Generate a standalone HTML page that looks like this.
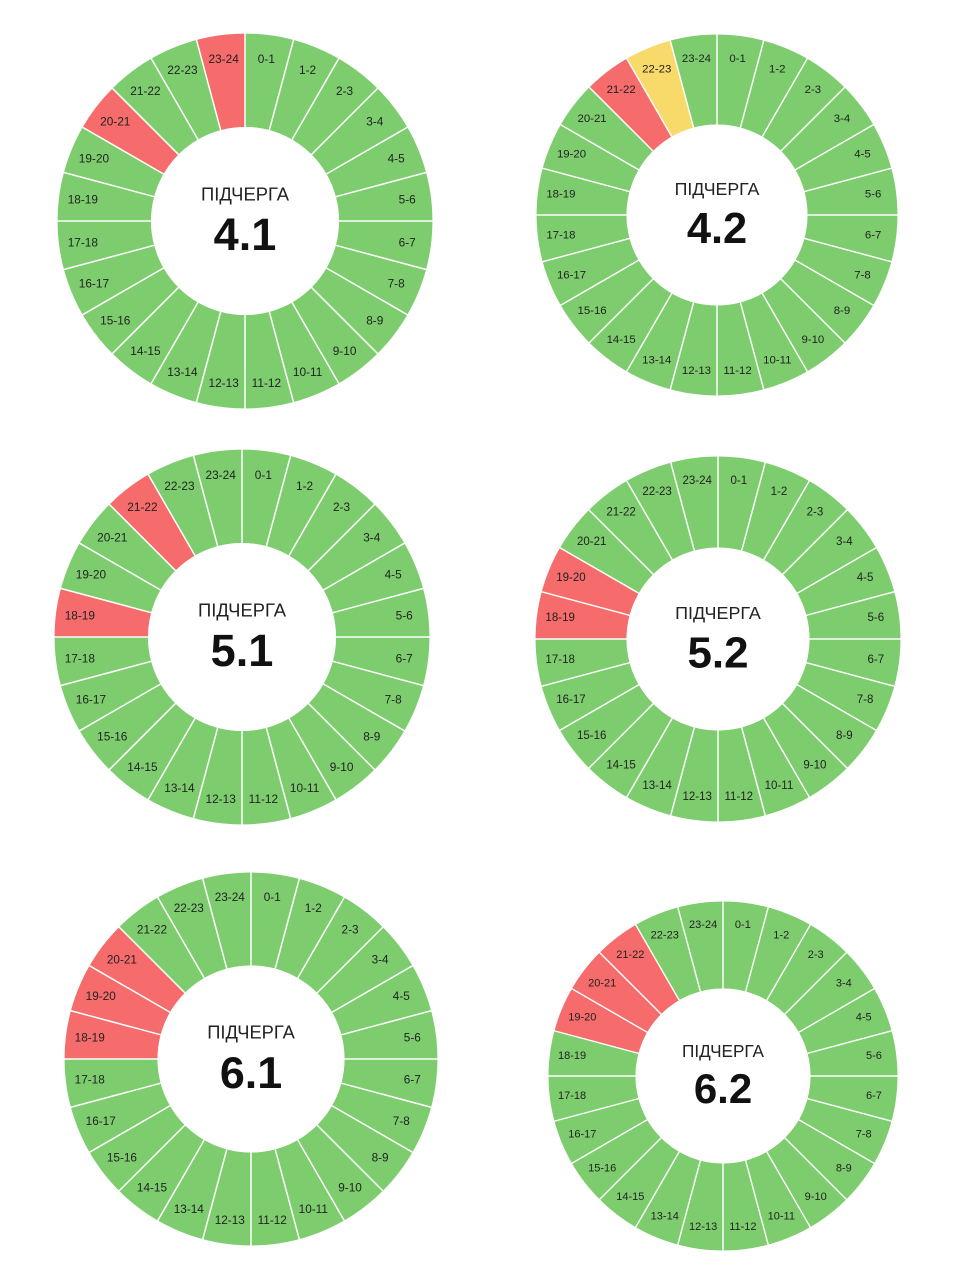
<!DOCTYPE html>
<html><head><meta charset="utf-8"><style>
html,body{margin:0;padding:0;background:#fff;}
svg{display:block;}
text{font-family:"Liberation Sans","DejaVu Sans",sans-serif;}
.l text{font-size:6.3px;fill:#222;text-anchor:middle;dominant-baseline:central;}
.t{font-size:9.8px;fill:#222;text-anchor:middle;}
.n{font-size:24px;font-weight:bold;fill:#111;text-anchor:middle;}
</style></head><body>
<svg width="960" height="1280" viewBox="0 0 960 1280" xmlns="http://www.w3.org/2000/svg">
<defs>
<path id="w" d="M0,-100 A100,100 0 0 1 25.88,-96.59 L12.94,-48.30 A50,50 0 0 0 0,-50 Z"/>
<g id="lines" stroke="#fff" stroke-width="0.8">
<line x1="0" y1="-50" x2="0" y2="-101" transform="rotate(0)"/><line x1="0" y1="-50" x2="0" y2="-101" transform="rotate(15)"/><line x1="0" y1="-50" x2="0" y2="-101" transform="rotate(30)"/><line x1="0" y1="-50" x2="0" y2="-101" transform="rotate(45)"/><line x1="0" y1="-50" x2="0" y2="-101" transform="rotate(60)"/><line x1="0" y1="-50" x2="0" y2="-101" transform="rotate(75)"/><line x1="0" y1="-50" x2="0" y2="-101" transform="rotate(90)"/><line x1="0" y1="-50" x2="0" y2="-101" transform="rotate(105)"/><line x1="0" y1="-50" x2="0" y2="-101" transform="rotate(120)"/><line x1="0" y1="-50" x2="0" y2="-101" transform="rotate(135)"/><line x1="0" y1="-50" x2="0" y2="-101" transform="rotate(150)"/><line x1="0" y1="-50" x2="0" y2="-101" transform="rotate(165)"/><line x1="0" y1="-50" x2="0" y2="-101" transform="rotate(180)"/><line x1="0" y1="-50" x2="0" y2="-101" transform="rotate(195)"/><line x1="0" y1="-50" x2="0" y2="-101" transform="rotate(210)"/><line x1="0" y1="-50" x2="0" y2="-101" transform="rotate(225)"/><line x1="0" y1="-50" x2="0" y2="-101" transform="rotate(240)"/><line x1="0" y1="-50" x2="0" y2="-101" transform="rotate(255)"/><line x1="0" y1="-50" x2="0" y2="-101" transform="rotate(270)"/><line x1="0" y1="-50" x2="0" y2="-101" transform="rotate(285)"/><line x1="0" y1="-50" x2="0" y2="-101" transform="rotate(300)"/><line x1="0" y1="-50" x2="0" y2="-101" transform="rotate(315)"/><line x1="0" y1="-50" x2="0" y2="-101" transform="rotate(330)"/><line x1="0" y1="-50" x2="0" y2="-101" transform="rotate(345)"/>
</g>
</defs>

<!-- Chart 4.1 -->
<g transform="translate(245,221) scale(1.88)">
<circle r="75" fill="none" stroke="#7dcd6e" stroke-width="50"/>
<use href="#w" fill="#f66b6b" transform="rotate(300)"/>
<use href="#w" fill="#f66b6b" transform="rotate(345)"/>
<use href="#lines"/>
<circle r="50" fill="#fff"/>
<circle r="100" fill="none" stroke="#fff" stroke-width="0.6"/>
<g class="l">
<text transform="rotate(7.5) translate(0,-87) rotate(-7.5)">0-1</text><text transform="rotate(22.5) translate(0,-87) rotate(-22.5)">1-2</text><text transform="rotate(37.5) translate(0,-87) rotate(-37.5)">2-3</text><text transform="rotate(52.5) translate(0,-87) rotate(-52.5)">3-4</text><text transform="rotate(67.5) translate(0,-87) rotate(-67.5)">4-5</text><text transform="rotate(82.5) translate(0,-87) rotate(-82.5)">5-6</text><text transform="rotate(97.5) translate(0,-87) rotate(-97.5)">6-7</text><text transform="rotate(112.5) translate(0,-87) rotate(-112.5)">7-8</text><text transform="rotate(127.5) translate(0,-87) rotate(-127.5)">8-9</text><text transform="rotate(142.5) translate(0,-87) rotate(-142.5)">9-10</text><text transform="rotate(157.5) translate(0,-87) rotate(-157.5)">10-11</text><text transform="rotate(172.5) translate(0,-87) rotate(-172.5)">11-12</text><text transform="rotate(187.5) translate(0,-87) rotate(-187.5)">12-13</text><text transform="rotate(202.5) translate(0,-87) rotate(-202.5)">13-14</text><text transform="rotate(217.5) translate(0,-87) rotate(-217.5)">14-15</text><text transform="rotate(232.5) translate(0,-87) rotate(-232.5)">15-16</text><text transform="rotate(247.5) translate(0,-87) rotate(-247.5)">16-17</text><text transform="rotate(262.5) translate(0,-87) rotate(-262.5)">17-18</text><text transform="rotate(277.5) translate(0,-87) rotate(-277.5)">18-19</text><text transform="rotate(292.5) translate(0,-87) rotate(-292.5)">19-20</text><text transform="rotate(307.5) translate(0,-87) rotate(-307.5)">20-21</text><text transform="rotate(322.5) translate(0,-87) rotate(-322.5)">21-22</text><text transform="rotate(337.5) translate(0,-87) rotate(-337.5)">22-23</text><text transform="rotate(352.5) translate(0,-87) rotate(-352.5)">23-24</text>
</g>
<text class="t" y="-11">ПІДЧЕРГА</text>
<text class="n" y="15.5">4.1</text>
</g>

<!-- Chart 4.2 -->
<g transform="translate(717,215) scale(1.81)">
<circle r="75" fill="none" stroke="#7dcd6e" stroke-width="50"/>
<use href="#w" fill="#f66b6b" transform="rotate(315)"/>
<use href="#w" fill="#f8da6a" transform="rotate(330)"/>
<use href="#lines"/>
<circle r="50" fill="#fff"/>
<circle r="100" fill="none" stroke="#fff" stroke-width="0.6"/>
<g class="l">
<text transform="rotate(7.5) translate(0,-87) rotate(-7.5)">0-1</text><text transform="rotate(22.5) translate(0,-87) rotate(-22.5)">1-2</text><text transform="rotate(37.5) translate(0,-87) rotate(-37.5)">2-3</text><text transform="rotate(52.5) translate(0,-87) rotate(-52.5)">3-4</text><text transform="rotate(67.5) translate(0,-87) rotate(-67.5)">4-5</text><text transform="rotate(82.5) translate(0,-87) rotate(-82.5)">5-6</text><text transform="rotate(97.5) translate(0,-87) rotate(-97.5)">6-7</text><text transform="rotate(112.5) translate(0,-87) rotate(-112.5)">7-8</text><text transform="rotate(127.5) translate(0,-87) rotate(-127.5)">8-9</text><text transform="rotate(142.5) translate(0,-87) rotate(-142.5)">9-10</text><text transform="rotate(157.5) translate(0,-87) rotate(-157.5)">10-11</text><text transform="rotate(172.5) translate(0,-87) rotate(-172.5)">11-12</text><text transform="rotate(187.5) translate(0,-87) rotate(-187.5)">12-13</text><text transform="rotate(202.5) translate(0,-87) rotate(-202.5)">13-14</text><text transform="rotate(217.5) translate(0,-87) rotate(-217.5)">14-15</text><text transform="rotate(232.5) translate(0,-87) rotate(-232.5)">15-16</text><text transform="rotate(247.5) translate(0,-87) rotate(-247.5)">16-17</text><text transform="rotate(262.5) translate(0,-87) rotate(-262.5)">17-18</text><text transform="rotate(277.5) translate(0,-87) rotate(-277.5)">18-19</text><text transform="rotate(292.5) translate(0,-87) rotate(-292.5)">19-20</text><text transform="rotate(307.5) translate(0,-87) rotate(-307.5)">20-21</text><text transform="rotate(322.5) translate(0,-87) rotate(-322.5)">21-22</text><text transform="rotate(337.5) translate(0,-87) rotate(-337.5)">22-23</text><text transform="rotate(352.5) translate(0,-87) rotate(-352.5)">23-24</text>
</g>
<text class="t" y="-11">ПІДЧЕРГА</text>
<text class="n" y="15.5">4.2</text>
</g>

<!-- Chart 5.1 -->
<g transform="translate(242,637) scale(1.88)">
<circle r="75" fill="none" stroke="#7dcd6e" stroke-width="50"/>
<use href="#w" fill="#f66b6b" transform="rotate(270)"/>
<use href="#w" fill="#f66b6b" transform="rotate(315)"/>
<use href="#lines"/>
<circle r="50" fill="#fff"/>
<circle r="100" fill="none" stroke="#fff" stroke-width="0.6"/>
<g class="l">
<text transform="rotate(7.5) translate(0,-87) rotate(-7.5)">0-1</text><text transform="rotate(22.5) translate(0,-87) rotate(-22.5)">1-2</text><text transform="rotate(37.5) translate(0,-87) rotate(-37.5)">2-3</text><text transform="rotate(52.5) translate(0,-87) rotate(-52.5)">3-4</text><text transform="rotate(67.5) translate(0,-87) rotate(-67.5)">4-5</text><text transform="rotate(82.5) translate(0,-87) rotate(-82.5)">5-6</text><text transform="rotate(97.5) translate(0,-87) rotate(-97.5)">6-7</text><text transform="rotate(112.5) translate(0,-87) rotate(-112.5)">7-8</text><text transform="rotate(127.5) translate(0,-87) rotate(-127.5)">8-9</text><text transform="rotate(142.5) translate(0,-87) rotate(-142.5)">9-10</text><text transform="rotate(157.5) translate(0,-87) rotate(-157.5)">10-11</text><text transform="rotate(172.5) translate(0,-87) rotate(-172.5)">11-12</text><text transform="rotate(187.5) translate(0,-87) rotate(-187.5)">12-13</text><text transform="rotate(202.5) translate(0,-87) rotate(-202.5)">13-14</text><text transform="rotate(217.5) translate(0,-87) rotate(-217.5)">14-15</text><text transform="rotate(232.5) translate(0,-87) rotate(-232.5)">15-16</text><text transform="rotate(247.5) translate(0,-87) rotate(-247.5)">16-17</text><text transform="rotate(262.5) translate(0,-87) rotate(-262.5)">17-18</text><text transform="rotate(277.5) translate(0,-87) rotate(-277.5)">18-19</text><text transform="rotate(292.5) translate(0,-87) rotate(-292.5)">19-20</text><text transform="rotate(307.5) translate(0,-87) rotate(-307.5)">20-21</text><text transform="rotate(322.5) translate(0,-87) rotate(-322.5)">21-22</text><text transform="rotate(337.5) translate(0,-87) rotate(-337.5)">22-23</text><text transform="rotate(352.5) translate(0,-87) rotate(-352.5)">23-24</text>
</g>
<text class="t" y="-11">ПІДЧЕРГА</text>
<text class="n" y="15.5">5.1</text>
</g>

<!-- Chart 5.2 -->
<g transform="translate(718,639) scale(1.83)">
<circle r="75" fill="none" stroke="#7dcd6e" stroke-width="50"/>
<use href="#w" fill="#f66b6b" transform="rotate(270)"/>
<use href="#w" fill="#f66b6b" transform="rotate(285)"/>
<use href="#lines"/>
<circle r="50" fill="#fff"/>
<circle r="100" fill="none" stroke="#fff" stroke-width="0.6"/>
<g class="l">
<text transform="rotate(7.5) translate(0,-87) rotate(-7.5)">0-1</text><text transform="rotate(22.5) translate(0,-87) rotate(-22.5)">1-2</text><text transform="rotate(37.5) translate(0,-87) rotate(-37.5)">2-3</text><text transform="rotate(52.5) translate(0,-87) rotate(-52.5)">3-4</text><text transform="rotate(67.5) translate(0,-87) rotate(-67.5)">4-5</text><text transform="rotate(82.5) translate(0,-87) rotate(-82.5)">5-6</text><text transform="rotate(97.5) translate(0,-87) rotate(-97.5)">6-7</text><text transform="rotate(112.5) translate(0,-87) rotate(-112.5)">7-8</text><text transform="rotate(127.5) translate(0,-87) rotate(-127.5)">8-9</text><text transform="rotate(142.5) translate(0,-87) rotate(-142.5)">9-10</text><text transform="rotate(157.5) translate(0,-87) rotate(-157.5)">10-11</text><text transform="rotate(172.5) translate(0,-87) rotate(-172.5)">11-12</text><text transform="rotate(187.5) translate(0,-87) rotate(-187.5)">12-13</text><text transform="rotate(202.5) translate(0,-87) rotate(-202.5)">13-14</text><text transform="rotate(217.5) translate(0,-87) rotate(-217.5)">14-15</text><text transform="rotate(232.5) translate(0,-87) rotate(-232.5)">15-16</text><text transform="rotate(247.5) translate(0,-87) rotate(-247.5)">16-17</text><text transform="rotate(262.5) translate(0,-87) rotate(-262.5)">17-18</text><text transform="rotate(277.5) translate(0,-87) rotate(-277.5)">18-19</text><text transform="rotate(292.5) translate(0,-87) rotate(-292.5)">19-20</text><text transform="rotate(307.5) translate(0,-87) rotate(-307.5)">20-21</text><text transform="rotate(322.5) translate(0,-87) rotate(-322.5)">21-22</text><text transform="rotate(337.5) translate(0,-87) rotate(-337.5)">22-23</text><text transform="rotate(352.5) translate(0,-87) rotate(-352.5)">23-24</text>
</g>
<text class="t" y="-11">ПІДЧЕРГА</text>
<text class="n" y="15.5">5.2</text>
</g>

<!-- Chart 6.1 -->
<g transform="translate(251,1059) scale(1.87)">
<circle r="75" fill="none" stroke="#7dcd6e" stroke-width="50"/>
<use href="#w" fill="#f66b6b" transform="rotate(270)"/>
<use href="#w" fill="#f66b6b" transform="rotate(285)"/>
<use href="#w" fill="#f66b6b" transform="rotate(300)"/>
<use href="#lines"/>
<circle r="50" fill="#fff"/>
<circle r="100" fill="none" stroke="#fff" stroke-width="0.6"/>
<g class="l">
<text transform="rotate(7.5) translate(0,-87) rotate(-7.5)">0-1</text><text transform="rotate(22.5) translate(0,-87) rotate(-22.5)">1-2</text><text transform="rotate(37.5) translate(0,-87) rotate(-37.5)">2-3</text><text transform="rotate(52.5) translate(0,-87) rotate(-52.5)">3-4</text><text transform="rotate(67.5) translate(0,-87) rotate(-67.5)">4-5</text><text transform="rotate(82.5) translate(0,-87) rotate(-82.5)">5-6</text><text transform="rotate(97.5) translate(0,-87) rotate(-97.5)">6-7</text><text transform="rotate(112.5) translate(0,-87) rotate(-112.5)">7-8</text><text transform="rotate(127.5) translate(0,-87) rotate(-127.5)">8-9</text><text transform="rotate(142.5) translate(0,-87) rotate(-142.5)">9-10</text><text transform="rotate(157.5) translate(0,-87) rotate(-157.5)">10-11</text><text transform="rotate(172.5) translate(0,-87) rotate(-172.5)">11-12</text><text transform="rotate(187.5) translate(0,-87) rotate(-187.5)">12-13</text><text transform="rotate(202.5) translate(0,-87) rotate(-202.5)">13-14</text><text transform="rotate(217.5) translate(0,-87) rotate(-217.5)">14-15</text><text transform="rotate(232.5) translate(0,-87) rotate(-232.5)">15-16</text><text transform="rotate(247.5) translate(0,-87) rotate(-247.5)">16-17</text><text transform="rotate(262.5) translate(0,-87) rotate(-262.5)">17-18</text><text transform="rotate(277.5) translate(0,-87) rotate(-277.5)">18-19</text><text transform="rotate(292.5) translate(0,-87) rotate(-292.5)">19-20</text><text transform="rotate(307.5) translate(0,-87) rotate(-307.5)">20-21</text><text transform="rotate(322.5) translate(0,-87) rotate(-322.5)">21-22</text><text transform="rotate(337.5) translate(0,-87) rotate(-337.5)">22-23</text><text transform="rotate(352.5) translate(0,-87) rotate(-352.5)">23-24</text>
</g>
<text class="t" y="-11">ПІДЧЕРГА</text>
<text class="n" y="15.5">6.1</text>
</g>

<!-- Chart 6.2 -->
<g transform="translate(723,1076) scale(1.75)">
<circle r="75" fill="none" stroke="#7dcd6e" stroke-width="50"/>
<use href="#w" fill="#f66b6b" transform="rotate(285)"/>
<use href="#w" fill="#f66b6b" transform="rotate(300)"/>
<use href="#w" fill="#f66b6b" transform="rotate(315)"/>
<use href="#lines"/>
<circle r="50" fill="#fff"/>
<circle r="100" fill="none" stroke="#fff" stroke-width="0.6"/>
<g class="l">
<text transform="rotate(7.5) translate(0,-87) rotate(-7.5)">0-1</text><text transform="rotate(22.5) translate(0,-87) rotate(-22.5)">1-2</text><text transform="rotate(37.5) translate(0,-87) rotate(-37.5)">2-3</text><text transform="rotate(52.5) translate(0,-87) rotate(-52.5)">3-4</text><text transform="rotate(67.5) translate(0,-87) rotate(-67.5)">4-5</text><text transform="rotate(82.5) translate(0,-87) rotate(-82.5)">5-6</text><text transform="rotate(97.5) translate(0,-87) rotate(-97.5)">6-7</text><text transform="rotate(112.5) translate(0,-87) rotate(-112.5)">7-8</text><text transform="rotate(127.5) translate(0,-87) rotate(-127.5)">8-9</text><text transform="rotate(142.5) translate(0,-87) rotate(-142.5)">9-10</text><text transform="rotate(157.5) translate(0,-87) rotate(-157.5)">10-11</text><text transform="rotate(172.5) translate(0,-87) rotate(-172.5)">11-12</text><text transform="rotate(187.5) translate(0,-87) rotate(-187.5)">12-13</text><text transform="rotate(202.5) translate(0,-87) rotate(-202.5)">13-14</text><text transform="rotate(217.5) translate(0,-87) rotate(-217.5)">14-15</text><text transform="rotate(232.5) translate(0,-87) rotate(-232.5)">15-16</text><text transform="rotate(247.5) translate(0,-87) rotate(-247.5)">16-17</text><text transform="rotate(262.5) translate(0,-87) rotate(-262.5)">17-18</text><text transform="rotate(277.5) translate(0,-87) rotate(-277.5)">18-19</text><text transform="rotate(292.5) translate(0,-87) rotate(-292.5)">19-20</text><text transform="rotate(307.5) translate(0,-87) rotate(-307.5)">20-21</text><text transform="rotate(322.5) translate(0,-87) rotate(-322.5)">21-22</text><text transform="rotate(337.5) translate(0,-87) rotate(-337.5)">22-23</text><text transform="rotate(352.5) translate(0,-87) rotate(-352.5)">23-24</text>
</g>
<text class="t" y="-11">ПІДЧЕРГА</text>
<text class="n" y="15.5">6.2</text>
</g>
</svg>
</body></html>
